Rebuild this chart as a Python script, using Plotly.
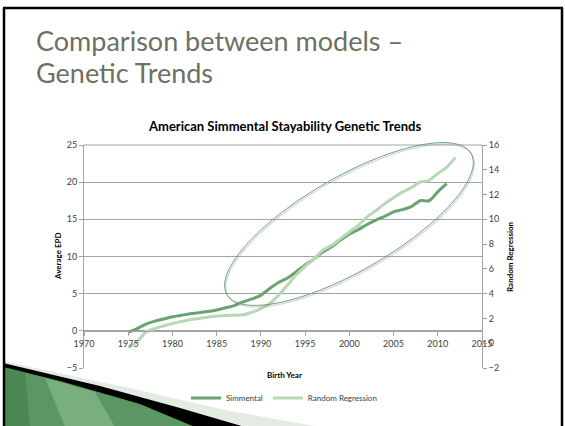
import numpy as np
import plotly.graph_objects as go

# ---------------- data ----------------
years_sim = list(range(1975, 2012))
simmental = [-0.2, 0.3, 0.9, 1.3, 1.6, 1.9, 2.1, 2.3, 2.45, 2.6, 2.8, 3.1, 3.4, 3.9, 4.3,
             4.8, 5.7, 6.5, 7.1, 7.95, 8.85, 9.65, 10.6, 11.3, 12.2, 13.0, 13.6, 14.3,
             14.9, 15.4, 16.0, 16.3, 16.7, 17.5, 17.5, 18.7, 19.8]
years_rr = list(range(1975, 2013))
random_regression = [-0.35, 0.1, 0.9, 1.18, 1.4, 1.59, 1.75, 1.9, 2.0, 2.1, 2.2, 2.24, 2.26,
                     2.3, 2.5, 2.8, 3.2, 3.87, 4.68, 5.5, 6.2, 6.8, 7.5, 7.9, 8.44, 8.98,
                     9.5, 10.2, 10.7, 11.27, 11.75, 12.2, 12.56, 13.0, 13.15, 13.7, 14.2, 15.0]
series_names = ["Simmental", "Random Regression"]
x_ticks = list(range(1970, 2016, 5))
y_left_ticks = list(range(-5, 26, 5))
y_right_ticks = list(range(-2, 17, 2))

# ---------------- layout geometry (pixels) ----------------
WIDTH, HEIGHT = 565, 426
L, R, T, B = 84, 482, 145, 368
PW, PH = R - L, B - T


def pp(x, y):
    return (x - L) / PW, (B - y) / PH


def path_from(points):
    s = ""
    for i, (x, y) in enumerate(points):
        px, py = pp(x, y)
        s += ("M" if i == 0 else "L") + f"{px:.4f},{py:.4f} "
    return s + "Z"


DARK = "#6aa371"
LIGHT = "#b9d7b6"
TICKC = "#404040"
GRID = "#a3a3a3"
FONT = "Lato"

fig = go.Figure()
fig.add_trace(go.Scatter(x=years_sim, y=simmental, name=series_names[0], mode="lines",
                         line=dict(color=DARK, width=3, shape="spline", smoothing=0.8),
                         yaxis="y"))
fig.add_trace(go.Scatter(x=years_rr, y=random_regression, name=series_names[1], mode="lines",
                         line=dict(color=LIGHT, width=3, shape="spline", smoothing=0.8),
                         yaxis="y2"))

shapes = []
# bottom-left slide decoration
shapes.append(dict(type="path", xref="paper", yref="paper", layer="below",
                   path=path_from([(3, 361), (120, 386), (230, 411), (320, 427), (3, 427)]),
                   fillcolor="#e3ebe2", line=dict(width=0)))
shapes.append(dict(type="path", xref="paper", yref="paper", layer="below",
                   path=path_from([(3, 363), (100, 386), (180, 408), (245, 427), (3, 427)]),
                   fillcolor="#000000", line=dict(width=0)))
shapes.append(dict(type="path", xref="paper", yref="paper", layer="below",
                   path=path_from([(3, 367), (60, 381), (140, 404), (195, 427), (3, 427)]),
                   fillcolor="#5a9762", line=dict(width=0)))
# lighter streak inside green wedge
shapes.append(dict(type="path", xref="paper", yref="paper", layer="below",
                   path=path_from([(45, 378), (95, 392), (115, 427), (65, 427)]),
                   fillcolor="#86b889", line=dict(width=0), opacity=0.7))
shapes.append(dict(type="path", xref="paper", yref="paper", layer="below",
                   path=path_from([(3, 367), (25, 372), (30, 427), (3, 427)]),
                   fillcolor="#3f7d48", line=dict(width=0), opacity=0.6))
# slide frame
for (x0, y0, x1, y1) in [(4, 8, 4, 427), (3, 8, 563, 8), (562, 8, 562, 427)]:
    a, b = pp(x0, y0)
    c, d = pp(x1, y1)
    shapes.append(dict(type="line", xref="paper", yref="paper", x0=a, y0=b, x1=c, y1=d,
                       line=dict(color="black", width=2.5)))
# top border gridline (value 25)
shapes.append(dict(type="line", xref="paper", yref="paper", x0=0, x1=1, y0=1, y1=1,
                   line=dict(color=GRID, width=1), layer="below"))
# highlight ellipse
cx, cy, ea, eb, ang = 349, 224, 141, 47, np.deg2rad(30)
t = np.linspace(0, 2 * np.pi, 120)
ex = cx + ea * np.cos(t) * np.cos(ang) + eb * np.sin(t) * np.sin(ang)
ey = cy - ea * np.cos(t) * np.sin(ang) + eb * np.sin(t) * np.cos(ang)
shapes.append(dict(type="path", xref="paper", yref="paper", layer="above",
                   path=path_from(list(zip(ex + 1, ey + 1.5))),
                   line=dict(color="rgba(150,150,150,0.35)", width=1.5)))
shapes.append(dict(type="path", xref="paper", yref="paper", layer="above",
                   path=path_from(list(zip(ex, ey))),
                   line=dict(color="#6aa574", width=1)))

annotations = []
tx, ty = pp(34, 40)
annotations.append(dict(text="Comparison between models –", xref="paper", yref="paper",
                        x=tx, y=ty, xanchor="left", yanchor="middle", showarrow=False,
                        font=dict(family=FONT, size=27, color="#6c7160")))
tx, ty = pp(34, 73)
annotations.append(dict(text="Genetic Trends", xref="paper", yref="paper",
                        x=tx, y=ty, xanchor="left", yanchor="middle", showarrow=False,
                        font=dict(family=FONT, size=27, color="#6c7160")))
tx, ty = pp(284, 126)
annotations.append(dict(text="<b>American Simmental Stayability Genetic Trends</b>",
                        xref="paper", yref="paper", x=tx, y=ty, xanchor="center",
                        yanchor="middle", showarrow=False,
                        font=dict(family=FONT, size=13, color="black")))
tx, ty = pp(284, 375)
annotations.append(dict(text="<b>Birth Year</b>", xref="paper", yref="paper", x=tx, y=ty,
                        xanchor="center", yanchor="middle", showarrow=False,
                        font=dict(family=FONT, size=8, color="black")))
tx, ty = pp(58, 256)
annotations.append(dict(text="<b>Average EPD</b>", xref="paper", yref="paper", x=tx, y=ty,
                        xanchor="center", yanchor="middle", showarrow=False, textangle=-90,
                        font=dict(family=FONT, size=8, color="black")))
tx, ty = pp(510, 257)
annotations.append(dict(text="<b>Random Regression</b>", xref="paper", yref="paper", x=tx,
                        y=ty, xanchor="center", yanchor="middle", showarrow=False,
                        textangle=-90, font=dict(family=FONT, size=8, color="black")))

lx, ly = pp(284, 398)
fig.update_layout(
    width=WIDTH, height=HEIGHT,
    margin=dict(l=L, r=WIDTH - R, t=T, b=HEIGHT - B, pad=0),
    paper_bgcolor="white", plot_bgcolor="rgba(0,0,0,0)",
    font=dict(family=FONT, size=9, color=TICKC),
    showlegend=True,
    legend=dict(orientation="h", x=lx, y=ly, xanchor="center", yanchor="middle",
                font=dict(family=FONT, size=8, color=TICKC), bgcolor="rgba(0,0,0,0)",
                itemwidth=30, tracegroupgap=0),
    xaxis=dict(range=[1970, 2015], tickvals=x_ticks, showgrid=False, zeroline=False,
               showline=True, linecolor=GRID, linewidth=1, anchor="free",
               position=(0 - (-5)) / 30, ticks="outside", ticklen=4, tickcolor=GRID,
               tickfont=dict(size=9, color=TICKC)),
    yaxis=dict(range=[-5, 25], tickvals=y_left_ticks, showgrid=True, gridcolor=GRID,
               gridwidth=1, zeroline=False, showline=True, linecolor=GRID, linewidth=1,
               ticks="outside", ticklen=4, tickcolor=GRID,
               tickfont=dict(size=9, color=TICKC)),
    yaxis2=dict(range=[-2, 16], tickvals=y_right_ticks, overlaying="y", side="right",
                showgrid=False, zeroline=False, showline=True, linecolor=GRID,
                linewidth=1, ticks="outside", ticklen=4, tickcolor=GRID,
                tickfont=dict(size=9, color=TICKC)),
    shapes=shapes,
    annotations=annotations,
)

fig.write_html("out.html")
